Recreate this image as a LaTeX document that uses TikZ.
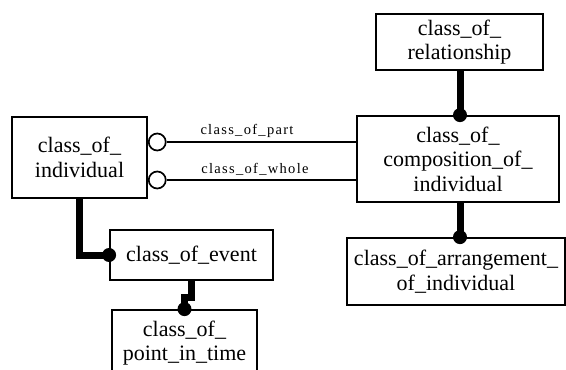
\documentclass[tikz,border=0pt]{standalone}
\usepackage{fontspec}
\setmainfont{Liberation Serif}
\newfontfamily\labfont{Liberation Serif}[LetterSpace=9]
\begin{document}
\begin{tikzpicture}[x=1pt,y=-1pt,
  box/.style={draw,line width=1.8pt,inner sep=0pt,align=center,
    font=\fontsize{22}{24.5}\selectfont},
  thin/.style={line width=1.7pt},
  thick link/.style={line width=7pt},
  dotend/.style={circle,fill=black,inner sep=0pt,minimum size=14pt},
  ocirc/.style={circle,draw,fill=white,line width=1.7pt,inner sep=0pt,minimum size=17pt},
  lab/.style={font=\labfont\fontsize{14.5}{16}\selectfont,inner sep=1pt}]
\useasboundingbox (0,0) rectangle (566,370);
\node[box,minimum width=167pt,minimum height=56pt] (rel) at (459.5,42) {class\_of\_\\relationship};
\node[box,minimum width=202pt,minimum height=86pt] (comp) at (458,159) {class\_of\_\\composition\_of\_\\individual};
\node[box,minimum width=218pt,minimum height=67pt] (arr) at (456,271.5) {class\_of\_arrangement\_\\of\_individual};
\node[box,minimum width=135pt,minimum height=81pt] (ind) at (79.5,157.5) {class\_of\_\\individual};
\node[box,minimum width=163pt,minimum height=50pt] (ev) at (191.5,255) {class\_of\_event};
\node[box,minimum width=145pt,minimum height=66pt] (pit) at (184.5,343) {class\_of\_\\point\_in\_time};
% composition links
\node[ocirc,anchor=west] (c1) at (ind.east |- 0,142) {};
\node[ocirc,anchor=west] (c2) at (ind.east |- 0,180) {};
\draw[thin] (c1.east) -- (c1.east -| comp.west);
\draw[thin] (c2.east) -- (c2.east -| comp.west);
\node[lab] (l1) at (247,131) {class\_of\_part};
\node[lab] (l2) at (255,169) {class\_of\_whole};
% thick links
\coordinate (r1) at (rel.south -| 460,0);
\draw[thick link] (r1) -- (r1 |- comp.north);
\node[dotend] (d1) at (r1 |- comp.north) {};
\coordinate (r2) at (comp.south -| 460,0);
\draw[thick link] (r2) -- (r2 |- arr.north);
\node[dotend] (d2) at (r2 |- arr.north) {};
\draw[thick link] (ind.south) |- (ev.west);
\node[dotend] (d3) at (ev.west) {};
\draw[thick link] (ev.south) -- ++(0,17) -| (pit.north);
\node[dotend] (d4) at (pit.north) {};
\end{tikzpicture}
\end{document}
